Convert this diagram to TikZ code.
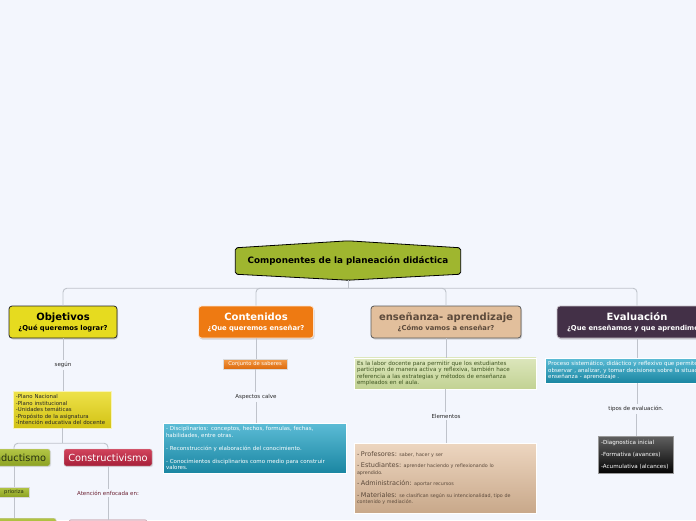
\documentclass[tikz,border=0pt]{standalone}
\usepackage{fontspec}
\setmainfont{DejaVu Sans}
\usetikzlibrary{positioning, backgrounds, shadows}
\definecolor{bgcol}{HTML}{F3F6FD}
\definecolor{linkcol}{HTML}{BFC3CB}
\definecolor{hubfill}{HTML}{9FB62F}
\definecolor{objfill}{HTML}{E6DB1F}
\definecolor{contfill}{HTML}{EE7A12}
\definecolor{ensfill}{HTML}{E2BF9C}
\definecolor{enstext}{HTML}{5C4A3B}
\definecolor{evalfill}{HTML}{433047}
\definecolor{yeltop}{HTML}{EEE24A}
\definecolor{yelbot}{HTML}{D2C214}
\definecolor{oltop}{HTML}{B3C545}
\definecolor{olbot}{HTML}{8CA223}
\definecolor{oltext}{HTML}{263010}
\definecolor{redtop}{HTML}{D2435C}
\definecolor{redbot}{HTML}{A61F39}
\definecolor{redtext}{HTML}{6A1F30}
\definecolor{pinkfill}{HTML}{EAC6D0}
\definecolor{ortop}{HTML}{F39A45}
\definecolor{orbot}{HTML}{DD6A0C}
\definecolor{tealtop}{HTML}{5CBCD6}
\definecolor{tealbot}{HTML}{1A86A2}
\definecolor{grtop}{HTML}{DCE6BC}
\definecolor{grbot}{HTML}{C2D293}
\definecolor{grtext}{HTML}{3D5420}
\definecolor{tantop}{HTML}{EDD6C0}
\definecolor{tanbot}{HTML}{C8A88A}
\definecolor{blktop}{HTML}{606060}
\definecolor{blkbot}{HTML}{050505}
\newcommand{\hdrbig}{\fontsize{10}{11}\selectfont\bfseries}
\newcommand{\hdrsub}{\fontsize{6.8}{8}\selectfont\bfseries}
\newcommand{\itembig}{\fontsize{6.5}{7}\selectfont}
\tikzset{
  hubtxt/.style = {rectangle, minimum width=225pt, minimum height=26pt, inner sep=2pt,
                   font=\fontsize{8.8}{10}\selectfont\bfseries},
  hubline/.style= {draw=black, line width=0.8pt, fill=hubfill, rounded corners=2pt},
  hdr/.style    = {rectangle, rounded corners=3pt, line width=0.8pt, align=center,
                   minimum height=32pt, inner sep=2pt,
                   drop shadow={shadow xshift=1pt, shadow yshift=-1.5pt, opacity=0.3}},
  sub/.style    = {rectangle, rounded corners=2pt, draw=black!20, align=center,
                   minimum height=17pt, inner sep=2pt, font=\fontsize{9.8}{10}\selectfont,
                   drop shadow={shadow xshift=1pt, shadow yshift=-1pt, opacity=0.2}},
  tag/.style    = {rectangle, draw=black!15, minimum height=10pt, inner sep=1.5pt,
                   font=\fontsize{5.2}{5.5}\selectfont,
                   drop shadow={shadow xshift=0.8pt, shadow yshift=-0.8pt, opacity=0.2}},
  note/.style   = {rectangle, draw=white!70, align=left, inner sep=3pt,
                   font=\fontsize{5.5}{6.5}\selectfont,
                   drop shadow={shadow xshift=1pt, shadow yshift=-1pt, opacity=0.15}},
  lbl/.style    = {font=\fontsize{5.5}{6}\selectfont, text=black!85, inner sep=2pt},
  link/.style   = {draw=linkcol, line width=0.9pt},
}
\begin{document}
\begin{tikzpicture}[x=1pt, y=-1pt]
  \useasboundingbox (0,0) rectangle (696,520);
  \clip (0,0) rectangle (696,520);
  % central node
  \node[hubtxt] (hub) at (348,261) {Componentes de la planeación didáctica};
  \coordinate (hubtop) at ([yshift=7pt]hub.north);
  \coordinate (hubtip) at ([yshift=-6pt]hub.south);
  \begin{scope}[on background layer]
    \fill[bgcol] (0,0) rectangle (696,520);
    \draw[hubline] (hub.north west) -- (hubtop) -- (hub.north east) -- (hub.south east)
      -- (hubtip) -- (hub.south west) -- cycle;
  \end{scope}
  % main branches
  \node[hdr, fill=objfill, draw=black!85, minimum width=108pt] (obj) at (63,322)
    {{\hdrbig Objetivos}\\[-2pt]{\hdrsub ¿Qué queremos lograr?}};
  \node[hdr, fill=contfill, draw=white!80!contfill, text=white, minimum width=115pt] (cont) at (256,322)
    {{\hdrbig Contenidos}\\[-2pt]{\hdrsub ¿Que queremos enseñar?}};
  \node[hdr, fill=ensfill, draw=black!65, text=enstext, minimum width=150pt] (ens) at (446,322)
    {{\hdrbig enseñanza- aprendizaje}\\[-2pt]{\hdrsub ¿Cómo vamos a enseñar?}};
  \node[hdr, fill=evalfill, draw=white!70!evalfill, text=white, minimum width=160pt] (evalu) at (637,322)
    {{\hdrbig Evaluación}\\[-2pt]{\hdrsub ¿Que enseñamos y que aprendimos?}};
  \draw[link] (hubtip) -- ++(0,8) coordinate (fork);
  \foreach \c in {obj, cont, ens, evalu}{\draw[link, rounded corners=4pt] (fork) -| (\c.north);}
  % objetivos
  \node[lbl] (segun) at (63,365) {según};
  \node[note, draw=white!60!yeltop, top color=yeltop, bottom color=yelbot, text=black!85,
        text width=92pt, minimum height=37pt, font=\fontsize{5.4}{6.5}\selectfont] (planes) at (62,409.5)
    {-Plano Nacional\\-Plano institucional\\-Unidades temáticas\\-Propósito de la asignatura\\-Intención educativa del docente};
  \draw[link] (planes.south) -- ++(0,15) coordinate (fork2);
  \node[sub, top color=oltop, bottom color=olbot, text=oltext, minimum width=72pt] (cond) at (14,457.5) {Conductismo};
  \node[sub, top color=redtop, bottom color=redbot, text=white, minimum width=88pt] (constr) at (108,457.5) {Constructivismo};
  \foreach \c in {cond, constr}{\draw[link, rounded corners=4pt] (fork2) -| (\c.north);}
  \node[tag, top color=oltop, bottom color=olbot, text=oltext, minimum width=30pt] (prioriza) at (14,492) {prioriza};
  \node[lbl, text=redtext] (atencion) at (108,493) {Atención enfocada en:};
  \node[sub, top color=oltop, bottom color=olbot, minimum width=86pt, anchor=north] (condnext) at (13,518) {};
  \node[sub, fill=pinkfill, draw=pinkfill!80!black, minimum width=78pt, anchor=north] (constrnext) at (108,519.5) {};
  % contenidos
  \node[tag, top color=ortop, bottom color=orbot, text=white, minimum width=64pt] (saberes) at (255,364) {Conjunto de saberes};
  \node[lbl] (aspectos) at (256,397) {Aspectos calve};
  \node[note, top color=tealtop, bottom color=tealbot, text=white, text width=177pt, minimum height=50pt] (discip) at (254.5,448)
    {- Disciplinarios: conceptos, hechos, formulas, fechas,\\habilidades, entre otras.\\[6.5pt]
     - Reconstrucción y elaboración del conocimiento.\\[6.5pt]
     - Conocimientos disciplinarios como medio para construir\\valores.};
  % ensenanza-aprendizaje
  \node[note, top color=grtop, bottom color=grbot, text=grtext, text width=176pt, minimum height=31pt,
        font=\fontsize{5.6}{6.6}\selectfont] (labor) at (445,373.5)
    {Es la labor docente para permitir que los estudiantes\\participen de manera activa y reflexiva, también hace\\
     referencia a las estrategias y métodos de enseñanza\\empleados en el aula.};
  \node[lbl] (elementos) at (446,416) {Elementos};
  \node[note, top color=tantop, bottom color=tanbot, text=enstext, text width=176pt, minimum height=70pt,
        font=\fontsize{4.8}{6.5}\selectfont] (actores) at (445,478)
    {{\itembig - Profesores:} saber, hacer y ser\\[5pt]
     {\itembig - Estudiantes:} aprender haciendo y reflexionando lo\\aprendido.\\[5pt]
     {\itembig - Administración:} aportar recursos\\[5pt]
     {\itembig - Materiales:} se clasifican según su intencionalidad, tipo de\\contenido y mediación.};
  % evaluacion
  \node[note, top color=tealtop, bottom color=tealbot, text=white, text width=178pt, minimum height=23pt,
        anchor=west] (proceso) at (545,370.5)
    {Proceso sistemático, didáctico y reflexivo que permite\\observar , analizar, y tomar decisiones sobre la situación\\enseñanza - aprendizaje .};
  \node[lbl] (tipos) at (636,409) {tipos de evaluación.};
  \node[note, draw=black!40, top color=blktop, bottom color=blkbot, text=white, text width=69pt, minimum height=37pt,
        font=\fontsize{5.6}{6}\selectfont] (tipoeval) at (635.5,454.5)
    {-Diagnostica inicial\\[6pt]-Formativa (avances)\\[6pt]-Acumulativa (alcances)};
  % connectors
  \foreach \a/\b in {obj/segun, segun/planes, cond/prioriza, prioriza/condnext, constr/atencion,
                     atencion/constrnext, cont/saberes, saberes/aspectos, aspectos/discip,
                     ens/labor, labor/elementos, elementos/actores, evalu/proceso,
                     proceso/tipos, tipos/tipoeval}{\draw[link] (\a.south) -- (\a.south |- \b.north);}
\end{tikzpicture}
\end{document}
